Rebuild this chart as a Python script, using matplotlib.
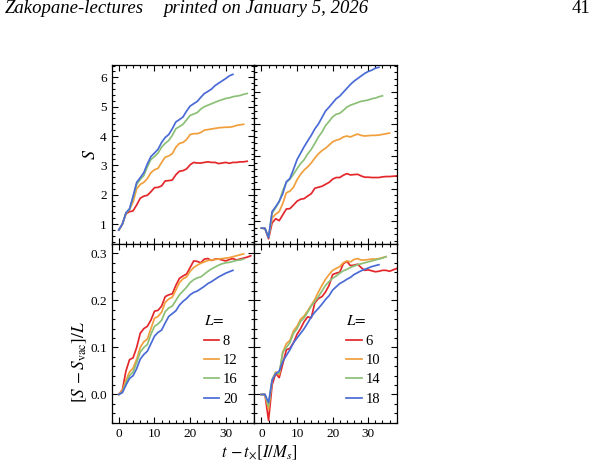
import matplotlib
matplotlib.use("Agg")
import matplotlib.pyplot as plt
import numpy as np
from matplotlib.ticker import MultipleLocator, AutoMinorLocator

plt.rcParams['font.family'] = 'serif'
plt.rcParams['font.serif'] = ['Liberation Serif', 'DejaVu Serif']
plt.rcParams['mathtext.fontset'] = 'stix'

t_grid = np.arange(0, 40)

# top left: entropy S, L = 8, 12, 16, 20
S_L8 = [0.80, 1.0, 1.35, 1.42, 1.45, 1.65, 1.88, 1.95, 1.98, 2.1, 2.24, 2.25, 2.3, 2.47, 2.48, 2.5,
        2.68, 2.8, 2.82, 2.88, 3.02, 3.1, 3.08, 3.08, 3.1, 3.12, 3.1, 3.1, 3.06, 3.08, 3.1, 3.07,
        3.1, 3.1, 3.12, 3.12, 3.14]
S_L12 = [0.8, 1.0, 1.35, 1.5, 1.75, 2.2, 2.35, 2.42, 2.55, 2.75, 2.85, 2.9, 3.1, 3.28, 3.32, 3.4,
         3.62, 3.75, 3.78, 3.88, 4.05, 4.08, 4.08, 4.12, 4.2, 4.22, 4.24, 4.26, 4.28, 4.29, 4.3,
         4.3, 4.32, 4.36, 4.38, 4.4]
S_L16 = [0.8, 1.0, 1.38, 1.5, 1.9, 2.35, 2.52, 2.65, 2.95, 3.2, 3.3, 3.42, 3.62, 3.75, 3.85, 4.02,
         4.25, 4.32, 4.4, 4.55, 4.7, 4.75, 4.8, 4.92, 5.0, 5.05, 5.1, 5.15, 5.2, 5.24, 5.28, 5.3,
         5.34, 5.36, 5.38, 5.42, 5.45]
S_L20 = [0.8, 1.0, 1.38, 1.52, 1.95, 2.42, 2.58, 2.75, 3.05, 3.3, 3.42, 3.55, 3.78, 3.95, 4.05,
         4.25, 4.48, 4.56, 4.65, 4.85, 5.02, 5.1, 5.18, 5.32, 5.45, 5.52, 5.6, 5.72, 5.8, 5.88,
         5.96, 6.05, 6.1]

# top right: entropy S, L = 6, 10, 14, 18
S_L6 = [0.79, 0.78, 0.46, 0.95, 1.08, 1.02, 1.2, 1.38, 1.39, 1.5, 1.62, 1.68, 1.7, 1.78, 1.85,
        2.02, 2.05, 2.08, 2.14, 2.2, 2.3, 2.35, 2.35, 2.42, 2.47, 2.43, 2.44, 2.45, 2.4, 2.36,
        2.36, 2.35, 2.35, 2.35, 2.37, 2.38, 2.38, 2.39, 2.40]
S_L10 = [0.79, 0.78, 0.5, 1.1, 1.22, 1.3, 1.55, 1.88, 1.93, 2.05, 2.28, 2.45, 2.58, 2.68, 2.8,
         2.95, 3.08, 3.18, 3.25, 3.35, 3.45, 3.5, 3.53, 3.6, 3.63, 3.6, 3.65, 3.69, 3.65, 3.63,
         3.64, 3.65, 3.65, 3.66, 3.68, 3.7, 3.72]
S_L14 = [0.79, 0.78, 0.5, 1.25, 1.42, 1.6, 1.95, 2.2, 2.3, 2.45, 2.62, 2.78, 2.9, 3.08, 3.22,
         3.4, 3.6, 3.75, 3.95, 4.08, 4.22, 4.3, 4.33, 4.42, 4.52, 4.58, 4.62, 4.66, 4.7, 4.72,
         4.74, 4.78, 4.8, 4.84, 4.87]
S_L18 = [0.79, 0.78, 0.5, 1.3, 1.45, 1.62, 1.85, 2.22, 2.32, 2.6, 2.9, 3.1, 3.3, 3.48, 3.65,
         3.85, 4.0, 4.2, 4.4, 4.52, 4.65, 4.78, 4.86, 4.98, 5.1, 5.22, 5.32, 5.4, 5.48, 5.56,
         5.62, 5.66, 5.72, 5.75]

# bottom left: [S - S_vac]/L, L = 8, 12, 16, 20
D_L8 = [0.0, 0.01, 0.05, 0.074, 0.078, 0.1, 0.13, 0.14, 0.145, 0.158, 0.177, 0.179, 0.188, 0.208,
        0.212, 0.214, 0.232, 0.247, 0.252, 0.256, 0.27, 0.284, 0.283, 0.28, 0.288, 0.289, 0.285,
        0.288, 0.288, 0.286, 0.284, 0.287, 0.289, 0.286, 0.288, 0.29, 0.292, 0.295]
D_L12 = [0.0, 0.008, 0.03, 0.048, 0.056, 0.075, 0.1, 0.112, 0.118, 0.14, 0.162, 0.166, 0.175,
         0.196, 0.203, 0.207, 0.222, 0.238, 0.246, 0.25, 0.262, 0.27, 0.275, 0.279, 0.282, 0.285,
         0.286, 0.287, 0.288, 0.289, 0.29, 0.291, 0.293, 0.295, 0.297, 0.299]
D_L16 = [0.0, 0.005, 0.025, 0.04, 0.048, 0.068, 0.09, 0.1, 0.106, 0.128, 0.145, 0.15, 0.158,
         0.176, 0.184, 0.188, 0.2, 0.212, 0.22, 0.228, 0.238, 0.244, 0.248, 0.25, 0.256, 0.262,
         0.267, 0.271, 0.275, 0.278, 0.28, 0.281, 0.283, 0.285, 0.286, 0.288]
D_L20 = [0.0, 0.004, 0.02, 0.034, 0.04, 0.055, 0.075, 0.085, 0.092, 0.108, 0.124, 0.132, 0.137,
         0.152, 0.166, 0.172, 0.178, 0.19, 0.198, 0.204, 0.212, 0.217, 0.22, 0.225, 0.23, 0.236,
         0.24, 0.245, 0.25, 0.254, 0.258, 0.261, 0.264]

# bottom right: [S - S_vac]/L, L = 6, 10, 14, 18
D_L6 = [0.0, 0.0, -0.055, 0.02, 0.045, 0.036, 0.065, 0.095, 0.098, 0.11, 0.128, 0.14, 0.155,
        0.165, 0.163, 0.195, 0.204, 0.208, 0.218, 0.232, 0.255, 0.258, 0.26, 0.278, 0.283, 0.274,
        0.275, 0.277, 0.27, 0.264, 0.265, 0.263, 0.261, 0.262, 0.264, 0.264, 0.262, 0.265, 0.268]
D_L10 = [0.0, 0.0, -0.032, 0.03, 0.048, 0.042, 0.09, 0.108, 0.115, 0.135, 0.145, 0.16, 0.167,
         0.178, 0.19, 0.202, 0.218, 0.232, 0.245, 0.255, 0.264, 0.268, 0.272, 0.28, 0.284, 0.282,
         0.287, 0.289, 0.286, 0.286, 0.287, 0.288, 0.288, 0.289, 0.291, 0.293]
D_L14 = [0.0, 0.0, -0.025, 0.032, 0.046, 0.045, 0.09, 0.1, 0.11, 0.13, 0.14, 0.155, 0.163, 0.175,
         0.188, 0.198, 0.208, 0.22, 0.232, 0.24, 0.247, 0.252, 0.258, 0.263, 0.266, 0.27, 0.273,
         0.276, 0.278, 0.28, 0.282, 0.284, 0.286, 0.288, 0.29, 0.293]
D_L18 = [0.0, 0.0, -0.017, 0.03, 0.044, 0.05, 0.07, 0.083, 0.095, 0.11, 0.12, 0.13, 0.14, 0.152,
         0.165, 0.175, 0.183, 0.192, 0.202, 0.21, 0.222, 0.229, 0.236, 0.24, 0.245, 0.249, 0.255,
         0.259, 0.263, 0.266, 0.269, 0.272, 0.274, 0.276]

labels_left = ["8", "12", "16", "20"]
labels_right = ["6", "10", "14", "18"]
colors = ["#e3272b", "#f19f3c", "#8cc077", "#4a6bd6"]

fig = plt.figure(figsize=(5.95, 4.69), dpi=100)
W, H = 595.0, 469.0

def add_panel(x0, x1, ytop, ybot):
    return fig.add_axes([x0 / W, 1 - ybot / H, (x1 - x0) / W, (ybot - ytop) / H])

ax_tl = add_panel(111.7, 254.3, 65, 244)
ax_tr = add_panel(254.3, 396.7, 65, 244)
ax_bl = add_panel(111.7, 254.3, 244, 422.7)
ax_br = add_panel(254.3, 396.7, 244, 422.7)

panels = [
    (ax_tl, [S_L8, S_L12, S_L16, S_L20], labels_left),
    (ax_tr, [S_L6, S_L10, S_L14, S_L18], labels_right),
    (ax_bl, [D_L8, D_L12, D_L16, D_L20], labels_left),
    (ax_br, [D_L6, D_L10, D_L14, D_L18], labels_right),
]

for ax, series, labs in panels:
    for vals, lab, c in zip(series, labs, colors):
        ax.plot(t_grid[:len(vals)], vals, color=c, lw=1.25, label=lab)
    ax.set_xlim(-2, 38)
    ax.xaxis.set_major_locator(MultipleLocator(10))
    ax.xaxis.set_minor_locator(AutoMinorLocator())
    ax.yaxis.set_minor_locator(AutoMinorLocator())
    ax.tick_params(which='both', direction='in', top=True, right=True, labelsize=9.5, width=0.8)
    ax.tick_params(which='major', length=4.5)
    ax.tick_params(which='minor', length=2.2)
    for sp in ax.spines.values():
        sp.set_linewidth(0.9)

ax_tl.set_ylim(0.32, 6.42)
ax_tl.yaxis.set_major_locator(MultipleLocator(1))
ax_tr.set_ylim(0.30, 5.82)
ax_tr.yaxis.set_major_locator(MultipleLocator(1))
for ax in (ax_bl, ax_br):
    ax.set_ylim(-0.06, 0.32)
    ax.yaxis.set_major_locator(MultipleLocator(0.1))
    ax.yaxis.set_major_formatter(plt.FormatStrFormatter('%.1f'))

for ax in (ax_tl, ax_tr):
    ax.tick_params(labelbottom=False)
for ax in (ax_tr, ax_br):
    ax.tick_params(labelleft=False)

ax_tl.set_ylabel(r'$S$', fontsize=13)
ax_tl.yaxis.set_label_coords(-0.09, 0.5)
ax_bl.set_ylabel(r'$[S\,-S_{\mathrm{vac}}]/L$', fontsize=12.5)
ax_bl.yaxis.set_label_coords(-0.16, 0.34)

fig.text(259 / W, 1 - 453 / H, r'$t\,-t_{\times}[I/M_s]$', fontsize=12, ha='center', va='center')

for ax in (ax_bl, ax_br):
    ax.legend(loc='center', bbox_to_anchor=(0.765, 0.35), frameon=False,
              title=r'$L\!=$', title_fontsize=11, fontsize=10.5, alignment='left',
              handlelength=1.05, handletextpad=0.25, labelspacing=0.42, borderpad=0)

fig.text(5 / W, 1 - 13 / H, 'Zakopane-lectures', fontsize=13.5, style='italic',
         ha='left', va='baseline')
fig.text(163 / W, 1 - 13 / H, 'printed on January 5, 2026', fontsize=13.5, style='italic',
         ha='left', va='baseline')
fig.text(590 / W, 1 - 13 / H, '41', fontsize=13.5, ha='right', va='baseline')

fig.savefig('out.png', dpi=100)
